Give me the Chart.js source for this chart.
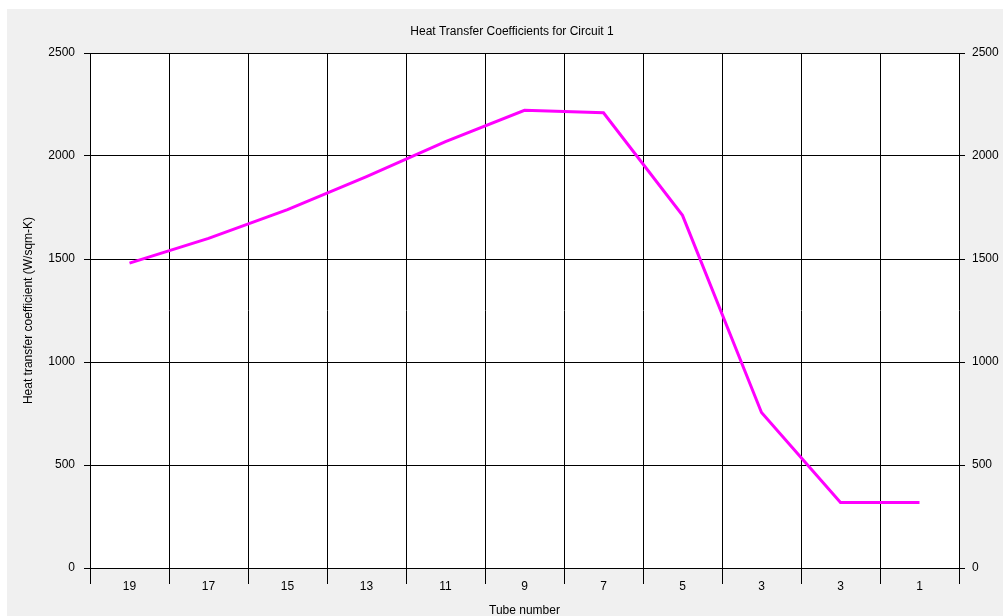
<!DOCTYPE html>
<html>
<head>
<meta charset="utf-8">
<script src="https://cdn.jsdelivr.net/npm/chart.js@4"></script>
<style>
  body { margin: 0; background: #fff; }
  #wrap { width: 1003px; height: 616px; }
</style>
</head>
<body>
<div id="wrap"><canvas id="myChart" width="1003" height="616"></canvas></div>
<script>
// tube numbers along the circuit
const tubes = ['19', '17', '15', '13', '11', '9', '7', '5', '3', '3', '1'];
// heat transfer coefficient, W/sqm-K
const htc = [1480, 1600, 1740, 1900, 2070, 2222, 2210, 1712, 755, 318, 318];
const yTicks = [0, 500, 1000, 1500, 2000, 2500];

const fondo = {
    id: 'fondo',
    beforeDraw: function(chart) {
        const c = chart.ctx;
        const a = chart.chartArea;
        c.save();
        c.fillStyle = '#f0f0f0';
        c.fillRect(7, 9, chart.width - 7, chart.height - 9);
        c.fillStyle = '#ffffff';
        c.fillRect(a.left, a.top, a.right - a.left, a.bottom - a.top);
        c.restore();
    }
};

const fuente = { family: 'Liberation Sans, Arial, sans-serif', size: 12, weight: 'normal' };
const sinComa = function(v) { return String(v); };

const ctx = document.getElementById('myChart').getContext('2d');
new Chart(ctx, {
    type: 'line',
    data: {
        labels: tubes,
        datasets: [{
            label: 'HTC',
            data: htc,
            borderColor: '#ff00ff',
            borderWidth: 3,
            pointRadius: 0,
            tension: 0,
            yAxisID: 'y'
        }]
    },
    options: {
        responsive: false,
        animation: false,
        layout: { padding: { left: 21, top: 9, right: 0, bottom: 0 } },
        plugins: {
            legend: { display: false },
            tooltip: { enabled: false },
            title: {
                display: true,
                text: 'Heat Transfer Coefficients for Circuit 1',
                color: '#000',
                font: fuente,
                padding: { top: 15, bottom: 14.6 }
            }
        },
        scales: {
            x: {
                type: 'category',
                offset: true,
                grid: { offset: true, color: '#000', tickLength: 16, tickColor: '#000' },
                border: { color: '#000' },
                ticks: { color: '#000', font: fuente, padding: -5, maxRotation: 0, autoSkip: false },
                title: { display: true, text: 'Tube number', color: '#000', font: fuente, padding: { top: 0, bottom: -2 } },
                afterFit: function(s) { s.height = 48; }
            },
            y: {
                position: 'left',
                min: 0,
                max: 2500,
                afterBuildTicks: function(s) { s.ticks = yTicks.map(v => ({ value: v })); },
                grid: { color: '#000', tickLength: 6 },
                border: { color: '#000' },
                ticks: { color: '#000', font: fuente, padding: 9, callback: sinComa },
                title: {
                    display: true,
                    text: 'Heat transfer coefficient (W/sqm-K)',
                    color: '#000',
                    font: fuente,
                    padding: { top: 0, bottom: 0 }
                },
                afterFit: function(s) { s.width = 69; }
            },
            y2: {
                position: 'right',
                min: 0,
                max: 2500,
                afterBuildTicks: function(s) { s.ticks = yTicks.map(v => ({ value: v })); },
                grid: { drawOnChartArea: false, color: '#000', tickLength: 6 },
                border: { display: false },
                ticks: { color: '#000', font: fuente, padding: 7, callback: sinComa },
                afterFit: function(s) { s.width = 44; }
            }
        }
    },
    plugins: [fondo]
});
</script>
</body>
</html>
